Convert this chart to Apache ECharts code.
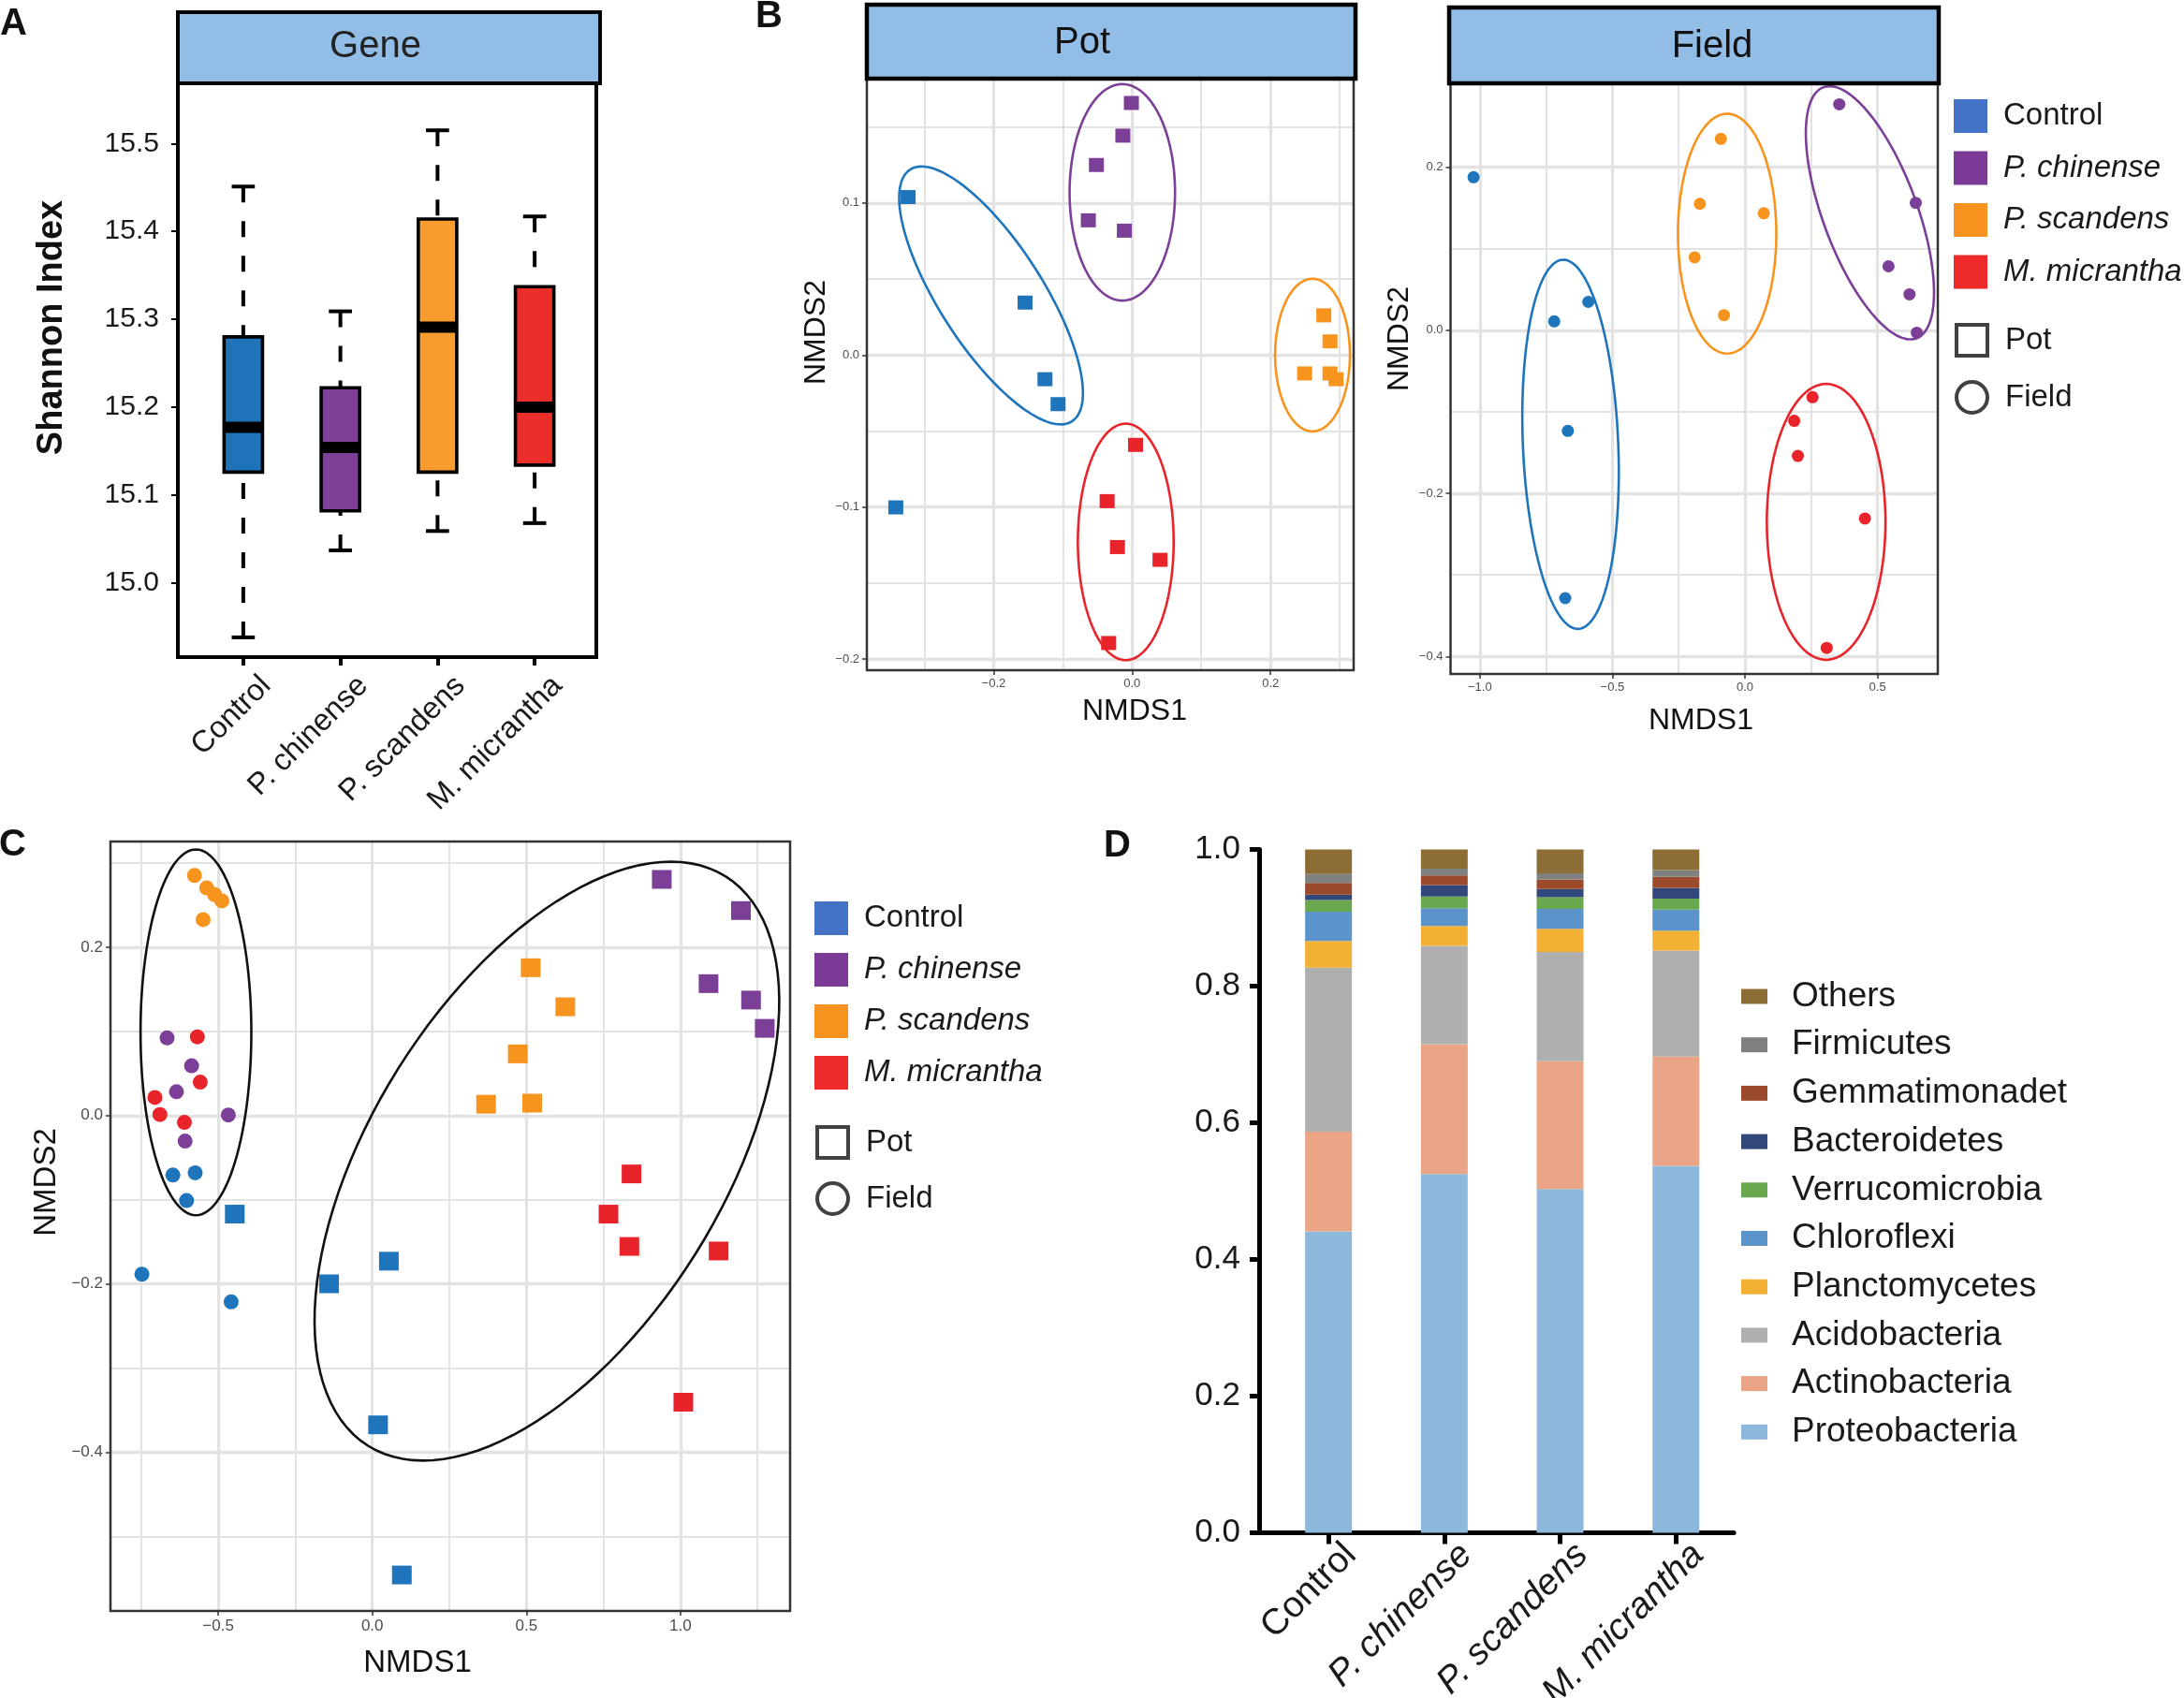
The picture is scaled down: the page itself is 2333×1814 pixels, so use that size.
<!DOCTYPE html>
<html><head><meta charset="utf-8">
<script src="https://cdn.jsdelivr.net/npm/echarts@6/dist/echarts.min.js"></script>
<style>html,body{margin:0;padding:0;background:#fff}#c{width:2333px;height:1814px}</style>
</head><body><div id="c"></div>
<script>
// ---------- data ----------
const groups = ['Control', 'P. chinense', 'P. scandens', 'M. micrantha'];

// Panel A: Shannon index box statistics
const shannonLow    = [14.938, 15.037, 15.059, 15.068];
const shannonQ1     = [15.126, 15.082, 15.126, 15.134];
const shannonMedian = [15.177, 15.154, 15.291, 15.200];
const shannonQ3     = [15.280, 15.222, 15.414, 15.337];
const shannonHigh   = [15.451, 15.309, 15.515, 15.417];
const shannonTicks  = [15.0, 15.1, 15.2, 15.3, 15.4, 15.5];

// Panel B: Pot NMDS
const potControl   = [[-0.3235, 0.1039], [-0.1546, 0.0345], [-0.1258, -0.0159], [-0.1069, -0.0323], [-0.3413, -0.1002]];
const potChinense  = [[-0.0010, 0.1658], [-0.0133, 0.1443], [-0.0515, 0.1250], [-0.0632, 0.0886], [-0.0111, 0.0818]];
const potScandens  = [[0.2770, 0.0261], [0.2859, 0.0090], [0.2493, -0.0121], [0.2859, -0.0121], [0.2947, -0.0159]];
const potMicrantha = [[0.0050, -0.0591], [-0.0360, -0.0961], [-0.0211, -0.1263], [0.0404, -0.1347], [-0.0338, -0.1894]];
// ellipses: [centerX, centerY, tipX, tipY, minor/major ratio, colour index]
const potEllipses = [[-0.2037, 0.0392, -0.3206, 0.1220, 0.346, 0], [-0.0141, 0.1070, -0.0141, 0.1782, 0.487, 1],
                     [0.2607, 0.0000, 0.2607, 0.0502, 0.49, 2], [-0.0091, -0.1229, -0.0091, -0.0451, 0.405, 3]];
const potXTicks = [-0.2, 0, 0.2], potXMinor = [-0.3, -0.1, 0.1, 0.3];
const potYTicks = [-0.2, -0.1, 0, 0.1], potYMinor = [-0.15, -0.05, 0.05, 0.15];

// Panel B: Field NMDS
const fieldControl   = [[-1.0237, 0.1878], [-0.7194, 0.0110], [-0.5909, 0.0349], [-0.6680, -0.1233], [-0.6779, -0.3285]];
const fieldChinense  = [[0.3557, 0.2773], [0.6443, 0.1564], [0.5415, 0.0785], [0.6206, 0.0442], [0.6482, -0.0029]];
const fieldScandens  = [[-0.0909, 0.2349], [-0.1700, 0.1552], [0.0711, 0.1436], [-0.1897, 0.0895], [-0.0790, 0.0186]];
const fieldMicrantha = [[0.2549, -0.0820], [0.1858, -0.1110], [0.1996, -0.1541], [0.4526, -0.2308], [0.3083, -0.3895]];
const fieldEllipses = [[-0.6578, -0.1398, -0.6871, 0.0866, 0.258, 0], [0.4714, 0.1442, 0.2963, 0.2982, 0.352, 1],
                       [-0.0672, 0.1186, -0.0672, 0.2657, 0.41, 2], [0.3063, -0.2349, 0.3063, -0.0657, 0.43, 3]];
const fieldXTicks = [-1, -0.5, 0, 0.5], fieldXMinor = [-0.75, -0.25, 0.25];
const fieldYTicks = [-0.4, -0.2, 0, 0.2], fieldYMinor = [-0.3, -0.1, 0.1];

// Panel C: all samples NMDS
const allPotControl    = [[-0.4463, -0.1170], [0.0537, -0.1729], [-0.1402, -0.1998], [0.0187, -0.3673], [0.0958, -0.5456]];
const allPotChinense   = [[0.9393, 0.2805], [1.1963, 0.2435], [1.0911, 0.1567], [1.2290, 0.1372], [1.2734, 0.1036]];
const allPotScandens   = [[0.5140, 0.1756], [0.6262, 0.1292], [0.4720, 0.0733], [0.3692, 0.0135], [0.5187, 0.0148]];
const allPotMicrantha  = [[0.8411, -0.0693], [0.7664, -0.1170], [0.8341, -0.1554], [1.1238, -0.1608], [1.0093, -0.3404]];
const allFieldControl  = [[-0.6472, -0.0706], [-0.5748, -0.0679], [-0.6028, -0.1009], [-0.7477, -0.1884], [-0.4580, -0.2213]];
const allFieldChinense = [[-0.6659, 0.0922], [-0.5864, 0.0592], [-0.6355, 0.0283], [-0.4673, 0.0007], [-0.6075, -0.0303]];
const allFieldScandens = [[-0.5770, 0.2852], [-0.5374, 0.2704], [-0.5117, 0.2624], [-0.4883, 0.2550], [-0.5490, 0.2328]];
const allFieldMicrantha= [[-0.5678, 0.0935], [-0.5584, 0.0397], [-0.7056, 0.0215], [-0.6893, 0.0013], [-0.6098, -0.0081]];
const allEllipses = [[-0.5724, 0.0989, -0.5724, 0.3161, 0.303, 4], [0.5665, -0.0541, 1.147, 0.2839, 0.521, 4]];
const allXTicks = [-0.5, 0, 0.5, 1], allXMinor = [-0.75, -0.25, 0.25, 0.75, 1.25];
const allYTicks = [-0.4, -0.2, 0, 0.2], allYMinor = [-0.5, -0.3, -0.1, 0.1, 0.3];

// Panel D: relative abundance of phyla
const phyla = ['Proteobacteria', 'Actinobacteria', 'Acidobacteria', 'Planctomycetes', 'Chloroflexi',
               'Verrucomicrobia', 'Bacteroidetes', 'Gemmatimonadet', 'Firmicutes', 'Others'];
const proteobacteria   = [0.441, 0.525, 0.503, 0.537];
const actinobacteria   = [0.146, 0.190, 0.187, 0.160];
const acidobacteria    = [0.240, 0.144, 0.160, 0.155];
const planctomycetes   = [0.039, 0.029, 0.034, 0.029];
const chloroflexi      = [0.043, 0.026, 0.029, 0.031];
const verrucomicrobia  = [0.017, 0.017, 0.017, 0.016];
const bacteroidetes    = [0.008, 0.017, 0.012, 0.016];
const gemmatimonadetes = [0.017, 0.014, 0.014, 0.016];
const firmicutes       = [0.013, 0.010, 0.009, 0.010];
const others           = [0.036, 0.028, 0.035, 0.030];

// ---------- styles ----------
const FONT = 'Liberation Sans, Arial, Helvetica, sans-serif';
const NARROW = 'Liberation Sans Narrow, Arial Narrow, Liberation Sans, sans-serif';
const boxColors = ['#1F73B8', '#7D3F98', '#F89C30', '#EC2E2A'];
const pointColors = ['#1F75BB', '#7B3F98', '#F7941D', '#E8242A', '#111111'];
const legendColors = ['#4472C4', '#7B3A96', '#F7931E', '#EE2A2A'];
const phylumColors = ['#8EB7DC', '#E9A585', '#AFAFAF', '#F2B134', '#5B94CB', '#6AA84F', '#33487A', '#9B4A2C', '#808080', '#8C6D35'];
const STRIP = '#92BDE6';
const GRIDLINE = '#E3E3E3';

const fmt = v => (v < 0 ? '\u2212' : '') + Math.abs(v).toFixed(1);

function majorAxis(gridIndex, min, max, ticks, pos) {
  return {
    type: 'value', gridIndex, min, max, position: pos,
    axisLine: {show: false, onZero: false},
    axisTick: {show: true, length: 5, customValues: ticks, lineStyle: {color: '#333', width: 1.5}},
    axisLabel: {customValues: ticks, fontSize: gridIndex === 3 ? 17 : 13, color: '#4d4d4d', fontFamily: FONT, margin: 8, formatter: fmt},
    splitLine: {show: true, lineStyle: {color: GRIDLINE, width: 3.3}}
  };
}
function minorAxis(gridIndex, min, max, ticks, pos) {
  return {
    type: 'value', gridIndex, min, max, position: pos,
    axisLine: {show: false, onZero: false},
    axisTick: {show: false, customValues: ticks},
    axisLabel: {show: false, customValues: ticks},
    splitLine: {show: true, lineStyle: {color: GRIDLINE, width: 2}}
  };
}

function renderEllipse(params, api) {
  const c = api.coord([api.value(0), api.value(1)]);
  const t = api.coord([api.value(2), api.value(3)]);
  const r = api.value(4);
  const col = pointColors[api.value(5)];
  const u = [t[0] - c[0], t[1] - c[1]];
  const v = [-u[1] * r, u[0] * r];
  const pts = [];
  for (let k = 0; k <= 120; k++) {
    const a = k / 120 * Math.PI * 2;
    pts.push([c[0] + u[0] * Math.cos(a) + v[0] * Math.sin(a), c[1] + u[1] * Math.cos(a) + v[1] * Math.sin(a)]);
  }
  return {type: 'polyline', shape: {points: pts}, style: {stroke: col, lineWidth: 2.6, fill: null}};
}

function renderBox(params, api) {
  const i = api.value(0);
  const band = api.size([1, 0])[0];
  const bw = band * 0.396, cw = band * 0.238;
  const lo = api.coord([i, api.value(1)]), q1 = api.coord([i, api.value(2)]);
  const md = api.coord([i, api.value(3)]), q3 = api.coord([i, api.value(4)]), hi = api.coord([i, api.value(5)]);
  const x = md[0];
  const dash = {stroke: '#000', lineWidth: 4, lineDash: [17, 20], fill: null};
  const solid = {stroke: '#000', lineWidth: 4, fill: null};
  return {type: 'group', children: [
    {type: 'line', shape: {x1: x, y1: hi[1], x2: x, y2: q3[1]}, style: dash},
    {type: 'line', shape: {x1: x, y1: lo[1], x2: x, y2: q1[1]}, style: dash},
    {type: 'line', shape: {x1: x - cw / 2, y1: hi[1], x2: x + cw / 2, y2: hi[1]}, style: solid},
    {type: 'line', shape: {x1: x - cw / 2, y1: lo[1], x2: x + cw / 2, y2: lo[1]}, style: solid},
    {type: 'rect', shape: {x: x - bw / 2, y: q3[1], width: bw, height: q1[1] - q3[1]},
      style: {fill: boxColors[params.dataIndex], stroke: '#000', lineWidth: 3.6}},
    {type: 'line', shape: {x1: x - bw / 2, y1: md[1], x2: x + bw / 2, y2: md[1]}, style: {stroke: '#000', lineWidth: 12}}
  ]};
}

const boxData = groups.map((g, i) => [i, shannonLow[i], shannonQ1[i], shannonMedian[i], shannonQ3[i], shannonHigh[i]]);

function scatter(name, data, xi, yi, symbol, size, colorIdx) {
  return {type: 'scatter', name, data, xAxisIndex: xi, yAxisIndex: yi, symbol, symbolSize: size,
    itemStyle: {color: pointColors[colorIdx], opacity: 1}, z: 5, silent: true};
}
function ellipses(data, xi, yi) {
  return {type: 'custom', data, xAxisIndex: xi, yAxisIndex: yi, renderItem: renderEllipse,
    encode: {x: [0, 2], y: [1, 3]}, z: 4, silent: true, clip: false};
}

const potSets = [potControl, potChinense, potScandens, potMicrantha];
const fieldSets = [fieldControl, fieldChinense, fieldScandens, fieldMicrantha];
const allPotSets = [allPotControl, allPotChinense, allPotScandens, allPotMicrantha];
const allFieldSets = [allFieldControl, allFieldChinense, allFieldScandens, allFieldMicrantha];
const abundance = [proteobacteria, actinobacteria, acidobacteria, planctomycetes, chloroflexi,
                   verrucomicrobia, bacteroidetes, gemmatimonadetes, firmicutes, others];

const series = [];
series.push({type: 'custom', name: 'Shannon', data: boxData, xAxisIndex: 0, yAxisIndex: 0,
  renderItem: renderBox, encode: {x: 0, y: [1, 2, 3, 4, 5]}, z: 5, silent: true});
series.push(ellipses(potEllipses, 1, 1));
potSets.forEach((d, i) => series.push(scatter(groups[i], d, 1, 1, 'rect', [16, 15], i)));
series.push(ellipses(fieldEllipses, 3, 3));
fieldSets.forEach((d, i) => series.push(scatter(groups[i], d, 3, 3, 'circle', 13, i)));
series.push(ellipses(allEllipses, 5, 5));
allPotSets.forEach((d, i) => series.push(scatter(groups[i], d, 5, 5, 'rect', [21, 20], i)));
allFieldSets.forEach((d, i) => series.push(scatter(groups[i], d, 5, 5, 'circle', 16, i)));
series.push({type: 'scatter', name: 'Pot', data: [], xAxisIndex: 5, yAxisIndex: 5, symbol: 'rect',
  itemStyle: {color: 'rgba(0,0,0,0)', borderColor: '#111', borderWidth: 4}});
series.push({type: 'scatter', name: 'Field', data: [], xAxisIndex: 5, yAxisIndex: 5, symbol: 'circle',
  itemStyle: {color: 'rgba(0,0,0,0)', borderColor: '#111', borderWidth: 4}});
phyla.forEach((p, k) => series.push({type: 'bar', name: p, stack: 'phyla', data: abundance[k],
  xAxisIndex: 7, yAxisIndex: 7, barWidth: 50, itemStyle: {color: phylumColors[k]}, silent: true}));

const italicRich = (size, family) => ({i: {fontStyle: 'italic', fontSize: size, fontFamily: family, color: '#1a1a1a'}});
const groupFormatter = name => (name === 'Control' ? name : '{i|' + name + '}');

function groupLegend(left, top, gap) {
  return {orient: 'vertical', left, top, padding: 0, itemWidth: 36, itemHeight: 36, itemGap: gap, selectedMode: false,
    data: groups.map((g, i) => ({name: g, icon: 'rect', itemStyle: {color: legendColors[i], borderWidth: 0}})),
    formatter: groupFormatter,
    textStyle: {fontSize: 33, fontFamily: NARROW, color: '#1a1a1a', padding: [0, 0, 0, 12], rich: italicRich(33, NARROW)}};
}
function shapeLegend(left, top, gap) {
  return {orient: 'vertical', left, top, padding: 0, itemWidth: 33, itemHeight: 33, itemGap: gap, selectedMode: false,
    data: [{name: 'Pot', icon: 'rect', itemStyle: {color: 'rgba(0,0,0,0)', borderColor: '#111', borderWidth: 4}},
           {name: 'Field', icon: 'circle', itemStyle: {color: 'rgba(0,0,0,0)', borderColor: '#111', borderWidth: 4}}],
    textStyle: {fontSize: 33, fontFamily: NARROW, color: '#1a1a1a', padding: [0, 0, 0, 14]}};
}

function txt(text, x, y, size, opts) {
  opts = opts || {};
  return {type: 'text', x, y, rotation: opts.rot || 0, z: 110,
    style: {text, x: 0, y: 0, fontSize: size, fontFamily: FONT, fontWeight: opts.bold ? 'bold' : 'normal',
      fill: opts.color || '#111', align: opts.align || 'center', verticalAlign: opts.va || 'middle',
      textAlign: opts.align || 'center', textVerticalAlign: opts.va || 'middle'}};
}
function rect(x, y, w, h, stroke, lw, fill, z) {
  return {type: 'rect', z: z || 100, shape: {x, y, width: w, height: h},
    style: {fill: fill || null, stroke, lineWidth: lw}};
}

const G = {outerBoundsMode: 'none', containLabel: false};
const option = {
  backgroundColor: '#fff',
  animation: false,
  grid: [
    Object.assign({left: 208, top: 89, width: 415, height: 613}, G),
    Object.assign({left: 926, top: 84, width: 520, height: 632}, G),
    Object.assign({left: 1549.5, top: 89, width: 520.5, height: 631}, G),
    Object.assign({left: 118, top: 899, width: 726, height: 822}, G),
    Object.assign({left: 1357.3, top: 907.5, width: 494.8, height: 730}, G)
  ],
  xAxis: [
    {type: 'category', gridIndex: 0, data: groups, axisLine: {show: false},
      axisTick: {show: true, alignWithLabel: true, length: 9, lineStyle: {color: '#000', width: 4}},
      axisLabel: {rotate: 45, fontSize: 32.5, fontFamily: FONT, color: '#1a1a1a', margin: 14, interval: 0,
        align: 'right', verticalAlign: 'top', padding: [9, -9, 0, 0]}},
    majorAxis(1, -0.3831, 0.3201, potXTicks, 'bottom'),
    minorAxis(1, -0.3831, 0.3201, potXMinor, 'top'),
    majorAxis(2, -1.1105, 0.7274, fieldXTicks, 'bottom'),
    minorAxis(2, -1.1105, 0.7274, fieldXMinor, 'top'),
    majorAxis(3, -0.8497, 1.3557, allXTicks, 'bottom'),
    minorAxis(3, -0.8497, 1.3557, allXMinor, 'top'),
    {type: 'category', gridIndex: 4, data: groups,
      axisLine: {show: true, lineStyle: {color: '#000', width: 5}},
      axisTick: {show: true, alignWithLabel: true, length: 12, lineStyle: {color: '#000', width: 5}},
      axisLabel: {rotate: 45, fontSize: 39, fontFamily: FONT, color: '#1a1a1a', margin: 4, interval: 0,
        align: 'right', verticalAlign: 'top', padding: [7, -7, 0, 0], formatter: groupFormatter, rich: italicRich(39, FONT)}}
  ],
  yAxis: [
    {type: 'value', gridIndex: 0, min: 14.91553, max: 15.56849, offset: 18,
      axisLine: {show: false, onZero: false},
      axisTick: {show: true, length: 7, customValues: shannonTicks, lineStyle: {color: '#000', width: 2}},
      axisLabel: {customValues: shannonTicks, fontSize: 30, fontFamily: FONT, color: '#1a1a1a', margin: 20,
        formatter: v => v.toFixed(1)},
      splitLine: {show: false}},
    majorAxis(1, -0.2073, 0.1818, potYTicks, 'left'),
    minorAxis(1, -0.2073, 0.1818, potYMinor, 'right'),
    majorAxis(2, -0.4215, 0.3030, fieldYTicks, 'left'),
    minorAxis(2, -0.4215, 0.3030, fieldYMinor, 'right'),
    majorAxis(3, -0.5883, 0.3255, allYTicks, 'left'),
    minorAxis(3, -0.5883, 0.3255, allYMinor, 'right'),
    {type: 'value', gridIndex: 4, min: 0, max: 1, interval: 0.2, offset: 12.3,
      axisLine: {show: true, onZero: false, lineStyle: {color: '#000', width: 5}},
      axisTick: {show: true, length: 10, lineStyle: {color: '#000', width: 5}},
      axisLabel: {fontSize: 35, fontFamily: FONT, color: '#1a1a1a', margin: 20, formatter: v => v.toFixed(1)},
      splitLine: {show: false}}
  ],
  legend: [
    groupLegend(2087, 106, 19.5),
    shapeLegend(2088, 345, 24),
    groupLegend(870, 963, 19),
    shapeLegend(871, 1202, 23),
    {orient: 'vertical', left: 1860, top: 1046, padding: 0, itemWidth: 28, itemHeight: 16, itemGap: 14.7, selectedMode: false,
      icon: 'rect', data: phyla.slice().reverse(),
      textStyle: {fontSize: 37, fontFamily: FONT, color: '#1a1a1a', padding: [0, 0, 0, 21]}}
  ],
  series,
  graphic: {elements: [
    // panel A frame and strip
    rect(190, 89, 447, 613, '#000', 4),
    rect(190, 13, 451, 76, '#000', 4, STRIP),
    txt('Gene', 401, 50, 40, {color: '#222'}),
    txt('Shannon Index', 56, 350, 38, {bold: true, rot: Math.PI / 2}),
    // panel B pot
    rect(926, 84, 520, 632, '#333', 2.5),
    rect(926, 5, 522, 79, '#000', 4.5, STRIP),
    txt('Pot', 1156, 46, 40, {color: '#111'}),
    txt('NMDS1', 1212, 760, 32),
    txt('NMDS2', 872, 355, 32, {rot: Math.PI / 2}),
    // panel B field
    rect(1549.5, 89, 520.5, 631, '#333', 2.5),
    rect(1548, 8, 523, 81, '#000', 4.5, STRIP),
    txt('Field', 1829, 50, 40, {color: '#111'}),
    txt('NMDS1', 1817, 770, 32),
    txt('NMDS2', 1495, 362, 32, {rot: Math.PI / 2}),
    // panel C
    rect(118, 899, 726, 822, '#333', 2.5),
    txt('NMDS1', 446, 1777, 33),
    txt('NMDS2', 50, 1263, 33, {rot: Math.PI / 2}),
    // panel D axis corner
    {type: 'line', z: 100, shape: {x1: 1342.5, y1: 1637.5, x2: 1358, y2: 1637.5}, style: {stroke: '#000', lineWidth: 5}},
    // panel letters
    txt('A', 0, 6, 40, {bold: true, align: 'left', va: 'top'}),
    txt('B', 807, -2, 40, {bold: true, align: 'left', va: 'top'}),
    txt('C', -1, 883, 40, {bold: true, align: 'left', va: 'top'}),
    txt('D', 1179, 884, 40, {bold: true, align: 'left', va: 'top'})
  ]}
};

const chart = echarts.init(document.getElementById('c'), null, {renderer: 'canvas'});
chart.setOption(option);
</script>
</body></html>
